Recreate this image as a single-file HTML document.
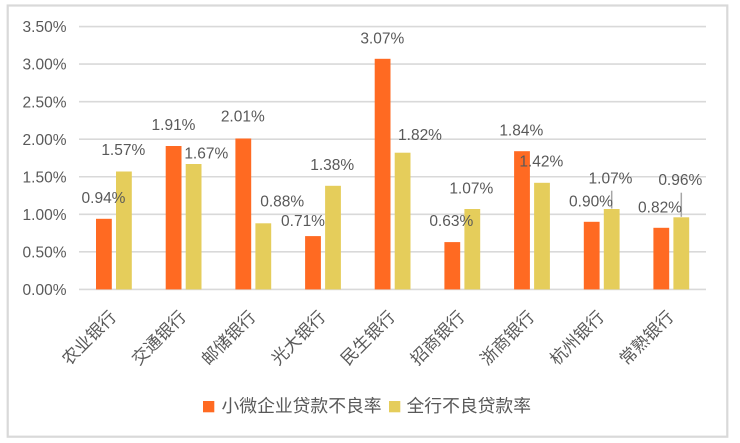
<!DOCTYPE html>
<html><head><meta charset="utf-8"><style>
html,body{margin:0;padding:0;background:#fff;}
svg{display:block;}
text{font-family:"Liberation Sans","Noto Sans CJK SC",sans-serif;fill:#595959;}
</style></head><body>
<svg width="740" height="443" viewBox="0 0 740 443" xmlns="http://www.w3.org/2000/svg">
<rect x="0" y="0" width="740" height="443" fill="#fff"/>
<rect x="7.7" y="5.5" width="719.6" height="431.2" fill="none" stroke="#d9d9d9" stroke-width="2.2"/>
<g stroke="#d9d9d9" stroke-width="1.6">
<line x1="79" y1="26.55" x2="706" y2="26.55"/>
<line x1="79" y1="64.1" x2="706" y2="64.1"/>
<line x1="79" y1="101.65" x2="706" y2="101.65"/>
<line x1="79" y1="139.2" x2="706" y2="139.2"/>
<line x1="79" y1="176.75" x2="706" y2="176.75"/>
<line x1="79" y1="214.3" x2="706" y2="214.3"/>
<line x1="79" y1="251.85" x2="706" y2="251.85"/>
<line x1="79" y1="289.4" x2="706" y2="289.4"/>
</g>
<g font-size="15.5" text-anchor="end">
<text x="66.5" y="32.2">3.50%</text>
<text x="66.5" y="69.7">3.00%</text>
<text x="66.5" y="107.3">2.50%</text>
<text x="66.5" y="144.8">2.00%</text>
<text x="66.5" y="182.4">1.50%</text>
<text x="66.5" y="219.9">1.00%</text>
<text x="66.5" y="257.5">0.50%</text>
<text x="66.5" y="295">0.00%</text>
</g>
<g fill="#ff6a22">
<rect x="96.0" y="218.8" width="15.8" height="70.6"/>
<rect x="165.7" y="146.0" width="15.8" height="143.4"/>
<rect x="235.4" y="138.5" width="15.8" height="150.9"/>
<rect x="305.1" y="236.1" width="15.8" height="53.3"/>
<rect x="374.7" y="58.8" width="15.8" height="230.6"/>
<rect x="444.4" y="242.1" width="15.8" height="47.3"/>
<rect x="514.1" y="151.2" width="15.8" height="138.2"/>
<rect x="583.8" y="221.8" width="15.8" height="67.6"/>
<rect x="653.4" y="227.8" width="15.8" height="61.6"/>
</g>
<g fill="#e5cd5b">
<rect x="116.0" y="171.5" width="15.8" height="117.9"/>
<rect x="185.7" y="164.0" width="15.8" height="125.4"/>
<rect x="255.4" y="223.3" width="15.8" height="66.1"/>
<rect x="325.1" y="185.8" width="15.8" height="103.6"/>
<rect x="394.7" y="152.7" width="15.8" height="136.7"/>
<rect x="464.4" y="209.0" width="15.8" height="80.4"/>
<rect x="534.1" y="182.8" width="15.8" height="106.6"/>
<rect x="603.8" y="209.0" width="15.8" height="80.4"/>
<rect x="673.4" y="217.3" width="15.8" height="72.1"/>
</g>
<g stroke="#a6a6a6" stroke-width="1.5">
<line x1="611.7" y1="190.7" x2="611.7" y2="208.5"/>
<line x1="681.3" y1="192.7" x2="681.3" y2="216.8"/>
</g>
<g font-size="15.5" text-anchor="middle">
<text x="103.5" y="203">0.94%</text>
<text x="123.3" y="155">1.57%</text>
<text x="173.5" y="130">1.91%</text>
<text x="206.3" y="158.3">1.67%</text>
<text x="242.8" y="121.7">2.01%</text>
<text x="282.2" y="206.7">0.88%</text>
<text x="303" y="226">0.71%</text>
<text x="332.2" y="170">1.38%</text>
<text x="382.3" y="43.3">3.07%</text>
<text x="420" y="140">1.82%</text>
<text x="451.3" y="226">0.63%</text>
<text x="471.3" y="193.3">1.07%</text>
<text x="521.3" y="135.7">1.84%</text>
<text x="541.3" y="166.7">1.42%</text>
<text x="591" y="206.7">0.90%</text>
<text x="610.5" y="183.3">1.07%</text>
<text x="660" y="212.7">0.82%</text>
<text x="680.3" y="185">0.96%</text>
</g>
<g font-size="17" text-anchor="end" font-family="'Noto Sans CJK SC',sans-serif">
<text transform="translate(117.3,318) rotate(-45)">农业银行</text>
<text transform="translate(187,318) rotate(-45)">交通银行</text>
<text transform="translate(256.7,318) rotate(-45)">邮储银行</text>
<text transform="translate(326.4,318) rotate(-45)">光大银行</text>
<text transform="translate(396,318) rotate(-45)">民生银行</text>
<text transform="translate(465.7,318) rotate(-45)">招商银行</text>
<text transform="translate(535.4,318) rotate(-45)">浙商银行</text>
<text transform="translate(605.1,318) rotate(-45)">杭州银行</text>
<text transform="translate(674.7,318) rotate(-45)">常熟银行</text>
</g>
<rect x="203" y="401" width="11.3" height="11.3" fill="#ff6a22"/>
<rect x="389" y="401" width="11.3" height="11.3" fill="#e5cd5b"/>
<g font-size="17.8" font-family="'Noto Sans CJK SC',sans-serif">
<text x="221.5" y="412">小微企业贷款不良率</text>
<text x="406.5" y="412">全行不良贷款率</text>
</g>
</svg>
</body></html>
